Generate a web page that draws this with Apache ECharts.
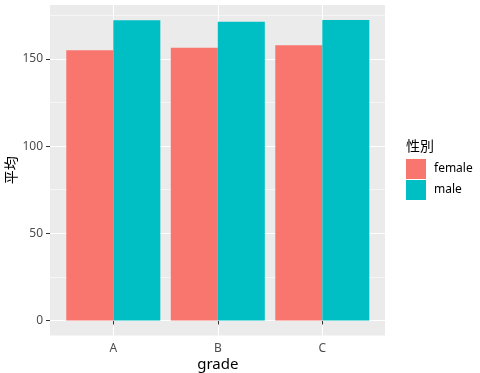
<!DOCTYPE html>
<html>
<head>
<meta charset="utf-8">
<script src="https://cdn.jsdelivr.net/npm/echarts@6/dist/echarts.min.js"></script>
<style>html,body{margin:0;padding:0;background:#fff;}#c{width:480px;height:373px;}</style>
</head>
<body>
<div id="c"></div>
<script>
const categories = ['A', 'B', 'C'];
const femaleValues = [154.9, 156.4, 157.8];
const maleValues = [172.1, 171.3, 172.3];
const seriesNames = ['female', 'male'];
const yTickValues = [0, 50, 100, 150];
const yMinorValues = [25, 75, 125, 175];
const yRange = [-8.6, 180.9];

const FONT = '"Noto Sans", "Noto Sans CJK JP", sans-serif';
const chart = echarts.init(document.getElementById('c'), null, {renderer: 'canvas'});

const gridLines = [];
yTickValues.forEach(v => gridLines.push({yAxis: v, lineStyle: {color: '#ffffff', width: 1.1, type: 'solid'}}));
yMinorValues.forEach(v => gridLines.push({yAxis: v, lineStyle: {color: '#ffffff', width: 0.55, type: 'solid'}}));

chart.setOption({
  animation: false,
  backgroundColor: '#ffffff',
  textStyle: {fontFamily: FONT},
  grid: [
    {left: 50, right: 95, top: 5, bottom: 37.5, show: true, backgroundColor: '#EBEBEB', borderWidth: 0, outerBoundsMode: 'none', containLabel: false},
    {left: 113.3, right: 157.7, top: 5, bottom: 37.5, show: false, outerBoundsMode: 'none', containLabel: false}
  ],
  xAxis: [
    {type: 'value', gridIndex: 0, min: 0, max: 1, show: false},
    {
      type: 'category', gridIndex: 1, data: categories, boundaryGap: false,
      axisLine: {show: false},
      axisTick: {show: true, length: 4, lineStyle: {color: '#333333', width: 1}},
      axisLabel: {color: '#4D4D4D', fontSize: 12, margin: 7, fontFamily: FONT},
      splitLine: {show: true, lineStyle: {color: '#ffffff', width: 1.1}},
      name: 'grade', nameLocation: 'middle', nameGap: 22, nameMoveOverlap: false,
      nameTextStyle: {color: '#000000', fontSize: 15, fontFamily: FONT}
    }
  ],
  yAxis: [
    {
      type: 'value', gridIndex: 0, min: yRange[0], max: yRange[1],
      axisLine: {show: false},
      axisTick: {show: true, length: 4, customValues: yTickValues, lineStyle: {color: '#333333', width: 1}},
      axisLabel: {color: '#4D4D4D', fontSize: 12, margin: 7, customValues: yTickValues, fontFamily: FONT},
      splitLine: {show: false},
      name: '平均', nameLocation: 'middle', nameGap: 31, nameRotate: 90, nameMoveOverlap: false,
      nameTextStyle: {color: '#000000', fontSize: 14, fontFamily: FONT}
    },
    {type: 'value', gridIndex: 1, min: yRange[0], max: yRange[1], show: false}
  ],
  legend: {
    orient: 'vertical', left: 406, top: 159, itemWidth: 20, itemHeight: 20, itemGap: 1, padding: 0,
    icon: 'rect', data: seriesNames,
    textStyle: {color: '#000000', fontSize: 12, fontFamily: FONT, padding: [0, 0, 0, 3]}
  },
  graphic: [
    {type: 'text', left: 406, top: 140, style: {text: '性別', fill: '#000000', font: '14px ' + FONT}}
  ],
  series: [
    {
      type: 'line', xAxisIndex: 0, yAxisIndex: 0, data: [], z: 1, silent: true,
      markLine: {silent: true, symbol: 'none', z: 1, label: {show: false}, animation: false, data: gridLines}
    },
    {
      name: seriesNames[0], type: 'bar', xAxisIndex: 1, yAxisIndex: 1, data: femaleValues,
      barCategoryGap: '10%', barGap: '0%', clip: false, z: 3,
      itemStyle: {color: '#F8766D'}
    },
    {
      name: seriesNames[1], type: 'bar', xAxisIndex: 1, yAxisIndex: 1, data: maleValues,
      barCategoryGap: '10%', barGap: '0%', clip: false, z: 3,
      itemStyle: {color: '#00BFC4'}
    }
  ]
});
</script>
</body>
</html>
